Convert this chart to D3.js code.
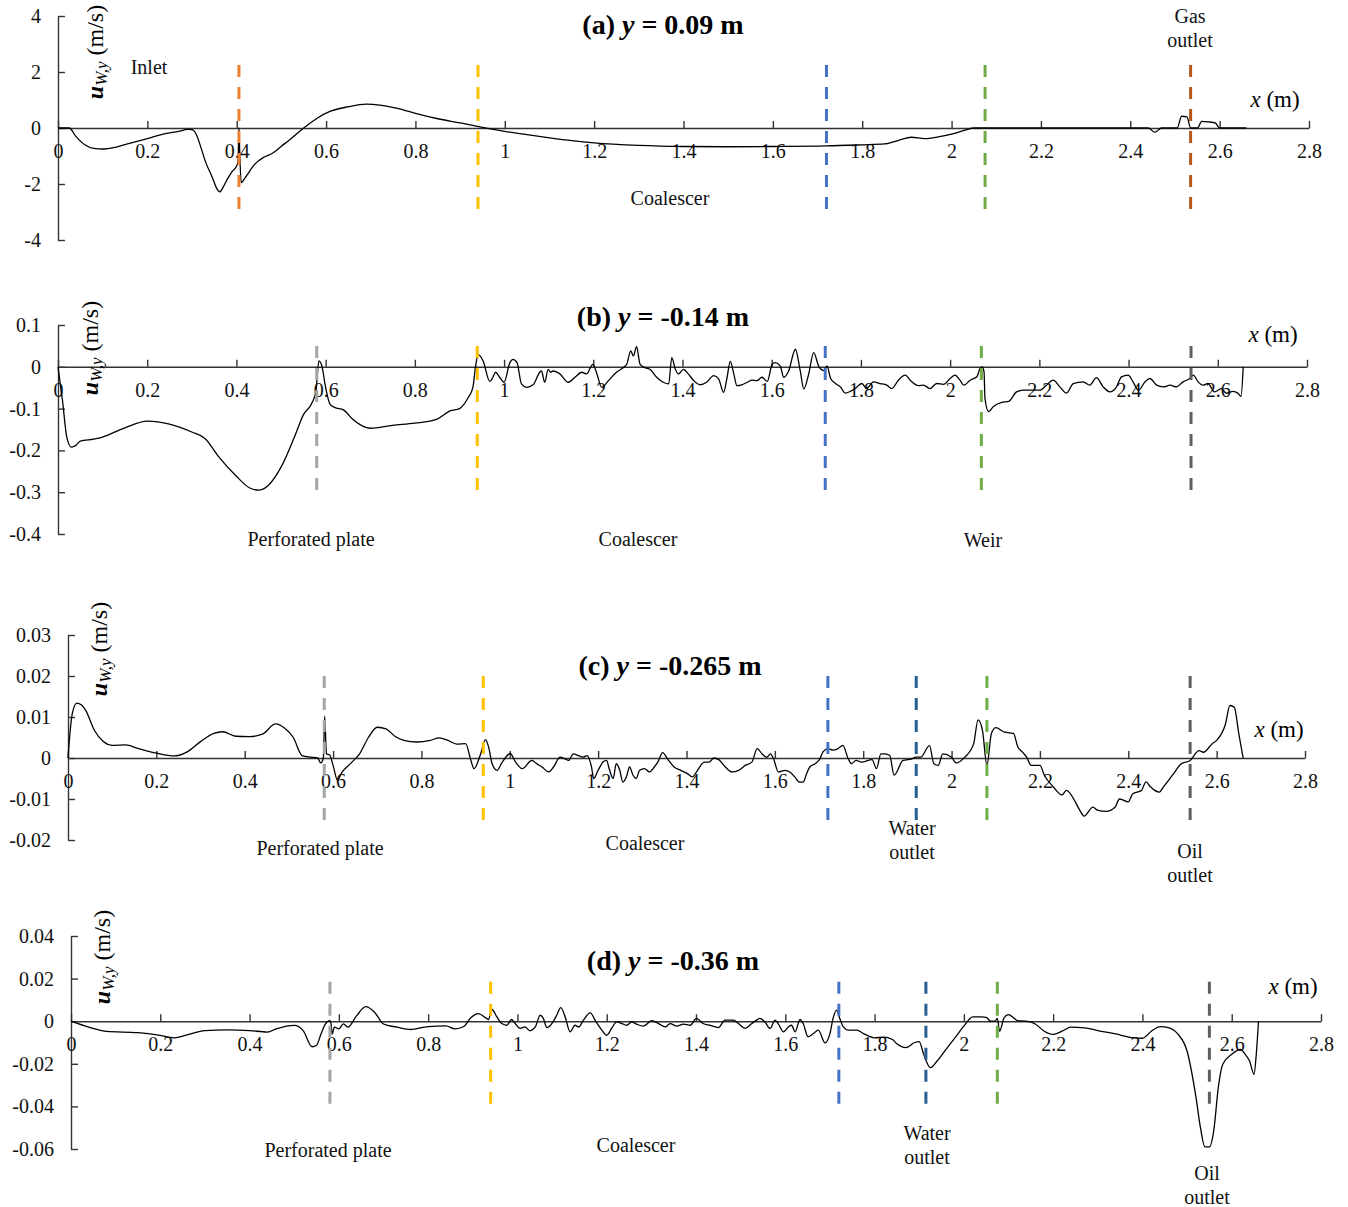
<!DOCTYPE html>
<html>
<head>
<meta charset="utf-8">
<script src="https://cdn.jsdelivr.net/npm/d3@7"></script>
<style>
  body { margin: 0; background: #fff; }
  svg { display: block; font-family: "Liberation Serif", "Times New Roman", serif; }
</style>
</head>
<body>
<svg id="chart" width="1348" height="1207"></svg>
<script>
// Horizontal position along the separator (m) shared by all four profiles
const xTicks = [0, 0.2, 0.4, 0.6, 0.8, 1, 1.2, 1.4, 1.6, 1.8, 2, 2.2, 2.4, 2.6, 2.8];

// Each profile is a list of [x (m), u_W,y (m/s)] samples.

// (a) y = 0.09 m
const yTicksA = [-4, -2, 0, 2, 4];
const profileA = [
  [0,0],[0.025,0],[0.04,-0.3],[0.06,-0.6],[0.08,-0.73],[0.1,-0.75],[0.13,-0.68],[0.16,-0.55],
  [0.2,-0.38],[0.24,-0.2],[0.27,-0.12],[0.29,-0.05],[0.3,-0.06],[0.31,-0.25],[0.32,-0.7],[0.33,-1.2],
  [0.345,-1.75],[0.355,-2.15],[0.362,-2.28],[0.37,-2.1],[0.38,-1.8],[0.39,-1.55],[0.4,-1.35],[0.403,-1.2],
  [0.405,0],[0.407,-1.0],[0.41,-1.95],[0.42,-1.75],[0.44,-1.3],[0.46,-1.05],[0.48,-0.9],[0.5,-0.65],
  [0.52,-0.4],[0.55,0],[0.58,0.35],[0.61,0.6],[0.65,0.76],[0.69,0.85],[0.72,0.82],[0.76,0.7],
  [0.8,0.52],[0.85,0.33],[0.9,0.18],[0.95,0.02],[1.0,-0.12],[1.05,-0.24],[1.1,-0.35],[1.15,-0.45],
  [1.2,-0.53],[1.3,-0.62],[1.4,-0.66],[1.5,-0.67],[1.6,-0.66],[1.72,-0.64],[1.8,-0.6],[1.85,-0.57],
  [1.88,-0.45],[1.91,-0.33],[1.94,-0.38],[1.97,-0.32],[2.0,-0.22],[2.03,-0.08],[2.05,0],[2.44,0],
  [2.455,-0.15],[2.47,0],[2.505,0],[2.515,0.42],[2.527,0.4],[2.535,0],[2.55,0],[2.56,0.24],
  [2.575,0.22],[2.59,0.18],[2.6,0],[2.66,0]
];
const wallsA = [0.405, 0.94, 1.72, 2.075, 2.535];

// (b) y = -0.14 m
const yTicksB = [-0.4, -0.3, -0.2, -0.1, 0, 0.1];
const profileB = [
  [0,0],[0.01,-0.08],[0.02,-0.17],[0.03,-0.192],[0.04,-0.188],[0.05,-0.178],[0.08,-0.173],[0.1,-0.168],
  [0.15,-0.146],[0.2,-0.13],[0.25,-0.137],[0.3,-0.156],[0.33,-0.172],[0.36,-0.215],[0.4,-0.262],[0.43,-0.29],
  [0.45,-0.295],[0.47,-0.285],[0.5,-0.24],[0.53,-0.168],[0.55,-0.115],[0.57,-0.085],[0.578,-0.06],[0.585,0.014],
  [0.592,0.0],[0.6,-0.05],[0.61,-0.09],[0.62,-0.097],[0.64,-0.103],[0.66,-0.125],[0.7,-0.147],[0.75,-0.14],
  [0.8,-0.135],[0.85,-0.125],[0.88,-0.105],[0.9,-0.1],[0.92,-0.073],[0.93,-0.05],[0.936,0],[0.942,0.029],
  [0.953,0.014],[0.968,-0.035],[0.975,-0.025],[0.981,-0.013],[0.99,-0.025],[1.0,-0.037],[1.013,0.01],[1.02,0.018],
  [1.029,0.01],[1.039,-0.041],[1.05,-0.049],[1.065,-0.043],[1.08,-0.013],[1.084,-0.01],[1.091,-0.037],[1.099,-0.006],
  [1.104,-0.013],[1.11,-0.01],[1.125,-0.017],[1.144,-0.037],[1.159,-0.025],[1.174,-0.013],[1.185,-0.017],[1.199,0.006],
  [1.207,-0.013],[1.219,-0.049],[1.234,-0.033],[1.252,-0.013],[1.267,-0.002],[1.275,0.006],[1.284,0.038],[1.29,0.026],
  [1.297,0.048],[1.305,0.006],[1.316,-0.002],[1.327,-0.006],[1.342,-0.025],[1.357,-0.037],[1.369,-0.041],[1.376,0.022],
  [1.384,-0.006],[1.391,-0.017],[1.402,-0.006],[1.413,-0.017],[1.425,-0.033],[1.44,-0.043],[1.454,-0.037],[1.47,-0.021],
  [1.481,-0.029],[1.492,-0.061],[1.5,-0.025],[1.507,0.013],[1.515,-0.017],[1.522,-0.045],[1.533,-0.043],[1.545,-0.037],
  [1.556,-0.032],[1.567,-0.033],[1.578,-0.025],[1.59,-0.035],[1.601,0.006],[1.608,0.01],[1.619,0.002],[1.627,-0.025],
  [1.638,-0.01],[1.653,0.042],[1.664,-0.01],[1.672,-0.053],[1.683,-0.017],[1.694,0.034],[1.706,0.0],[1.717,-0.009],
  [1.724,0.002],[1.732,-0.028],[1.743,-0.04],[1.754,-0.048],[1.765,-0.063],[1.776,-0.059],[1.787,-0.052],[1.802,-0.04],
  [1.813,-0.052],[1.828,-0.036],[1.843,-0.04],[1.858,-0.044],[1.869,-0.052],[1.884,-0.032],[1.899,-0.02],[1.914,-0.036],
  [1.929,-0.045],[1.94,-0.044],[1.955,-0.052],[1.97,-0.04],[1.985,-0.042],[2.0,-0.028],[2.011,-0.02],[2.022,-0.032],
  [2.031,-0.044],[2.045,-0.032],[2.06,-0.024],[2.067,-0.004],[2.072,0],[2.076,-0.012],[2.078,-0.075],[2.086,-0.107],
  [2.097,-0.095],[2.116,-0.085],[2.131,-0.083],[2.149,-0.06],[2.164,-0.056],[2.187,-0.056],[2.201,-0.056],[2.216,-0.044],
  [2.231,-0.032],[2.246,-0.048],[2.261,-0.063],[2.276,-0.04],[2.298,-0.036],[2.313,-0.044],[2.328,-0.026],[2.343,-0.048],
  [2.358,-0.06],[2.373,-0.048],[2.384,-0.024],[2.399,-0.02],[2.41,-0.036],[2.422,-0.056],[2.437,-0.036],[2.448,-0.028],
  [2.463,-0.044],[2.478,-0.048],[2.493,-0.044],[2.507,-0.048],[2.522,-0.036],[2.537,-0.028],[2.545,-0.02],[2.556,-0.036],
  [2.567,-0.044],[2.578,-0.04],[2.593,-0.06],[2.608,-0.052],[2.619,-0.063],[2.634,-0.059],[2.645,-0.063],[2.652,-0.071],
  [2.657,0]
];
const wallsB = [0.58, 0.94, 1.72, 2.07, 2.54];

// (c) y = -0.265 m
const yTicksC = [-0.02, -0.01, 0, 0.01, 0.02, 0.03];
const profileC = [
  [0,0],[0.005,0.0067],[0.01,0.011],[0.02,0.0134],[0.03,0.013],[0.04,0.0116],[0.06,0.0067],[0.08,0.004],
  [0.1,0.0031],[0.13,0.0032],[0.16,0.0023],[0.2,0.0012],[0.24,0.0005],[0.27,0.0015],[0.3,0.004],[0.33,0.006],
  [0.35,0.0064],[0.38,0.0053],[0.41,0.0052],[0.44,0.0058],[0.47,0.0083],[0.49,0.0073],[0.51,0.005],[0.53,0.0006],
  [0.55,0.0002],[0.565,0],[0.572,-0.0012],[0.578,0.0],[0.581,0.0102],[0.585,0.001],[0.592,0.0008],[0.6,-0.0018],
  [0.61,-0.0054],[0.62,-0.0035],[0.64,-0.0013],[0.66,0.001],[0.68,0.005],[0.7,0.0075],[0.72,0.0071],[0.74,0.0053],
  [0.76,0.0043],[0.79,0.0039],[0.82,0.0043],[0.84,0.0049],[0.86,0.0043],[0.88,0.0034],[0.9,0.0035],[0.912,-0.0006],
  [0.919,-0.0026],[0.934,0.001],[0.945,0.0045],[0.952,0.0027],[0.96,-0.0014],[0.971,-0.003],[0.983,-0.001],[1.001,0.0011],
  [1.013,-0.001],[1.028,-0.0026],[1.05,-0.0006],[1.061,-0.0014],[1.073,-0.0022],[1.088,-0.0034],[1.099,-0.0022],[1.114,0.0002],
  [1.125,-0.0002],[1.133,-0.0006],[1.144,0.001],[1.155,0.0006],[1.166,0.0002],[1.175,0.0006],[1.185,-0.0022],[1.19,-0.005],
  [1.2,-0.003],[1.211,-0.001],[1.219,-0.0006],[1.226,-0.003],[1.234,-0.005],[1.241,-0.0014],[1.249,-0.003],[1.256,-0.0059],
  [1.264,-0.0046],[1.271,-0.0022],[1.279,-0.0042],[1.286,-0.005],[1.294,-0.003],[1.305,-0.0026],[1.316,-0.0034],[1.327,-0.0022],
  [1.335,-0.001],[1.346,0.0013],[1.357,-0.0002],[1.372,-0.0022],[1.387,-0.003],[1.402,-0.0038],[1.413,-0.0046],[1.425,-0.003],
  [1.44,-0.001],[1.451,-0.001],[1.462,0],[1.473,-0.0004],[1.488,-0.0022],[1.503,-0.0034],[1.518,-0.003],[1.533,-0.0018],
  [1.548,-0.001],[1.56,0.0023],[1.571,0.001],[1.582,0.0002],[1.59,0.001],[1.597,-0.0002],[1.608,-0.0034],[1.623,-0.003],
  [1.634,-0.0034],[1.645,-0.0046],[1.656,-0.0059],[1.664,-0.0059],[1.672,-0.0038],[1.679,-0.0022],[1.691,-0.0014],[1.702,-0.0002],
  [1.709,0.0015],[1.72,0.0023],[1.732,0.0019],[1.743,0.0023],[1.754,0.0031],[1.766,-0.0002],[1.773,-0.0014],[1.784,-0.0006],
  [1.796,-0.001],[1.82,-0.0004],[1.83,-0.0026],[1.84,0.001],[1.85,0.001],[1.86,0.0006],[1.87,-0.0042],[1.89,-0.0006],
  [1.91,-0.0002],[1.92,0.0002],[1.93,0.0002],[1.95,0.003],[1.96,-0.0014],[1.97,-0.0018],[1.98,0.001],[2.0,0.0002],
  [2.01,-0.0012],[2.03,0.0002],[2.05,0.0035],[2.06,0.0093],[2.07,0.0067],[2.08,-0.0018],[2.09,0.0059],[2.1,0.0074],
  [2.12,0.0063],[2.14,0.006],[2.15,0.0027],[2.16,0.0015],[2.17,0.0002],[2.18,-0.0018],[2.2,-0.0018],[2.21,-0.0042],
  [2.23,-0.007],[2.25,-0.009],[2.26,-0.0079],[2.28,-0.0107],[2.29,-0.0127],[2.3,-0.0142],[2.32,-0.012],[2.33,-0.0127],
  [2.35,-0.013],[2.37,-0.012],[2.38,-0.01],[2.4,-0.0107],[2.41,-0.0087],[2.43,-0.0079],[2.44,-0.0058],[2.45,-0.007],
  [2.47,-0.0083],[2.48,-0.007],[2.5,-0.0042],[2.52,-0.0014],[2.54,-0.0006],[2.56,0.0018],[2.57,0.0014],[2.59,0.0035],
  [2.6,0.0043],[2.62,0.0083],[2.63,0.0128],[2.64,0.0124],[2.65,0.006],[2.66,0]
];
const wallsC = [0.58, 0.94, 1.72, 1.92, 2.08, 2.54];

// (d) y = -0.36 m
const yTicksD = [-0.06, -0.04, -0.02, 0, 0.02, 0.04];
const profileD = [
  [0,0],[0.04,-0.0028],[0.08,-0.0048],[0.15,-0.0054],[0.2,-0.0067],[0.23,-0.0078],[0.26,-0.0064],[0.3,-0.0044],
  [0.35,-0.0041],[0.4,-0.0044],[0.44,-0.0051],[0.46,-0.0036],[0.5,-0.002],[0.52,-0.0044],[0.54,-0.012],[0.55,-0.0113],
  [0.56,-0.006],[0.57,-0.0013],[0.58,0.0003],[0.583,-0.002],[0.585,-0.006],[0.59,-0.0028],[0.6,-0.0036],[0.61,-0.0013],
  [0.62,-0.0028],[0.64,0.0026],[0.66,0.0068],[0.68,0.0042],[0.7,-0.0013],[0.73,-0.0028],[0.76,-0.0039],[0.8,-0.0025],
  [0.84,-0.0022],[0.86,-0.0036],[0.88,-0.0025],[0.894,0.0013],[0.913,0.0036],[0.928,0.0017],[0.935,0.0008],[0.943,0.0055],
  [0.954,0.002],[0.965,-0.0011],[0.976,-0.0019],[0.987,0.0008],[0.995,-0.0011],[1.006,-0.0034],[1.017,-0.0027],[1.028,-0.0045],
  [1.04,-0.0027],[1.051,0.0028],[1.058,0.0013],[1.066,-0.003],[1.077,-0.0011],[1.088,0.0028],[1.097,0.0064],[1.107,0.002],
  [1.118,-0.005],[1.129,-0.0019],[1.137,-0.0027],[1.148,0.0005],[1.163,0.0039],[1.176,-0.0003],[1.189,-0.0042],[1.2,-0.0066],
  [1.211,-0.0034],[1.222,-0.0003],[1.234,-0.0011],[1.245,-0.0019],[1.256,-0.0003],[1.267,-0.0014],[1.282,-0.0023],[1.301,0.0002],
  [1.316,-0.0011],[1.331,-0.0027],[1.342,-0.0011],[1.357,-0.0023],[1.372,-0.0014],[1.387,-0.0019],[1.401,0.0013],[1.416,-0.0011],
  [1.431,-0.0019],[1.45,-0.003],[1.465,0.0005],[1.484,0.0005],[1.495,-0.0011],[1.51,-0.0034],[1.525,-0.0011],[1.536,0.0005],
  [1.543,0.0013],[1.554,-0.0003],[1.566,-0.0034],[1.577,0.0005],[1.584,-0.0011],[1.596,-0.005],[1.607,-0.0027],[1.614,-0.0019],
  [1.622,-0.005],[1.633,0.0008],[1.64,-0.0011],[1.651,-0.0073],[1.663,-0.0058],[1.674,-0.0042],[1.689,-0.0102],[1.7,-0.0058],
  [1.707,0.0013],[1.715,0.0052],[1.722,0.0013],[1.73,-0.0027],[1.741,-0.0042],[1.76,-0.0042],[1.775,-0.0058],[1.8,-0.0078],
  [1.82,-0.0075],[1.84,-0.0086],[1.85,-0.0106],[1.87,-0.0124],[1.89,-0.01],[1.9,-0.0096],[1.91,-0.0155],[1.925,-0.0218],
  [1.94,-0.0187],[1.96,-0.0132],[1.98,-0.0078],[2.0,-0.0023],[2.02,0.002],[2.04,0.002],[2.05,0.0018],[2.06,0],
  [2.07,0],[2.075,0.0013],[2.08,-0.0047],[2.09,0.0016],[2.1,0.0031],[2.12,0.0003],[2.14,0],[2.16,-0.0013],
  [2.18,-0.0047],[2.2,-0.0062],[2.22,-0.0047],[2.24,-0.0028],[2.27,-0.0031],[2.3,-0.0044],[2.34,-0.006],[2.38,-0.0078],
  [2.4,-0.008],[2.42,-0.0047],[2.44,-0.0025],[2.46,-0.0031],[2.48,-0.0062],[2.5,-0.014],[2.52,-0.0358],[2.53,-0.05],
  [2.54,-0.059],[2.55,-0.059],[2.56,-0.051],[2.57,-0.031],[2.58,-0.0202],[2.6,-0.0155],[2.62,-0.0132],[2.63,-0.0155],
  [2.64,-0.0187],[2.65,-0.0249],[2.655,-0.0155],[2.66,0]
];
const wallsD = [0.58, 0.94, 1.72, 1.915, 2.075, 2.55];

// ---- layout and styling -------------------------------------------------
const C = {
  orange: "#ED7D31", yellow: "#FFC000", blue: "#4472C4", green: "#70AD47",
  brown: "#B8561A", gray: "#A5A5A5", dgray: "#5F5F5F", navy: "#255E91"
};

const panels = [
  { tag: "a", yPos: "0.09", data: profileA, yTicks: yTicksA, walls: wallsA,
    wallColors: [C.orange, C.yellow, C.blue, C.green, C.brown],
    wallSpan: [2.25, -3.05],
    box: { left: 58, right: 1309, top: 16, bottom: 240 }, dom: [-4, 4],
    title: [663, 24], yLab: [95, 52], xLab: [1275, 99],
    notes: [ { t: ["Inlet"], x: 149, y: 67 }, { t: ["Coalescer"], x: 670, y: 198 },
             { t: ["Gas", "outlet"], x: 1190, y: 16 } ] },
  { tag: "b", yPos: "-0.14", data: profileB, yTicks: yTicksB, walls: wallsB,
    wallColors: [C.gray, C.yellow, C.blue, C.green, C.dgray],
    wallSpan: [0.05, -0.3],
    box: { left: 58, right: 1307, top: 325, bottom: 534 }, dom: [-0.4, 0.1],
    title: [663, 316], yLab: [90, 348], xLab: [1273, 334],
    notes: [ { t: ["Perforated plate"], x: 311, y: 539 }, { t: ["Coalescer"], x: 638, y: 539 },
             { t: ["Weir"], x: 983, y: 540 } ] },
  { tag: "c", yPos: "-0.265", data: profileC, yTicks: yTicksC, walls: wallsC,
    wallColors: [C.gray, C.yellow, C.blue, C.navy, C.green, C.dgray],
    wallSpan: [0.02, -0.0155],
    box: { left: 68, right: 1305, top: 635, bottom: 840 }, dom: [-0.02, 0.03],
    title: [670, 665], yLab: [99, 649], xLab: [1279, 729],
    notes: [ { t: ["Perforated plate"], x: 320, y: 848 }, { t: ["Coalescer"], x: 645, y: 843 },
             { t: ["Water", "outlet"], x: 912, y: 828 }, { t: ["Oil", "outlet"], x: 1190, y: 851 } ] },
  { tag: "d", yPos: "-0.36", data: profileD, yTicks: yTicksD, walls: wallsD,
    wallColors: [C.gray, C.yellow, C.blue, C.navy, C.green, C.dgray],
    wallSpan: [0.0185, -0.0412],
    box: { left: 71, right: 1321, top: 936, bottom: 1149 }, dom: [-0.06, 0.04],
    title: [673, 960], yLab: [102, 957], xLab: [1293, 986],
    notes: [ { t: ["Perforated plate"], x: 328, y: 1150 }, { t: ["Coalescer"], x: 636, y: 1145 },
             { t: ["Water", "outlet"], x: 927, y: 1133 }, { t: ["Oil", "outlet"], x: 1207, y: 1173 } ] }
];

const svg = d3.select("#chart");
const fmt = d => String(+d.toFixed(3));
const axisColor = "#333";

panels.forEach(p => {
  const xs = d3.scaleLinear().domain([0, 2.8]).range([p.box.left, p.box.right]);
  const ys = d3.scaleLinear().domain(p.dom).range([p.box.bottom, p.box.top]);
  const g = svg.append("g").attr("class", "panel-" + p.tag);

  // y axis (ticks point into the plot)
  const yAxis = g.append("g")
    .attr("transform", `translate(${p.box.left},0)`)
    .call(d3.axisLeft(ys).tickValues(p.yTicks).tickFormat(fmt)
      .tickSizeInner(-7).tickSizeOuter(0).tickPadding(17));

  // x axis drawn along u = 0, ticks pointing up
  const xAxis = g.append("g")
    .attr("transform", `translate(0,${ys(0)})`)
    .call(d3.axisBottom(xs).tickValues(xTicks).tickFormat(fmt)
      .tickSizeInner(-7).tickSizeOuter(0).tickPadding(16));

  [yAxis, xAxis].forEach(ax => {
    ax.selectAll("path, line").attr("stroke", axisColor).attr("stroke-width", 1.4);
    ax.selectAll("text").attr("fill", "#111").style("font-size", "20px")
      .style("font-family", '"Liberation Serif", "Times New Roman", serif');
  });

  // velocity profile
  g.append("path")
    .datum(p.data)
    .attr("fill", "none")
    .attr("stroke", "#000")
    .attr("stroke-width", 1.3)
    .attr("stroke-linejoin", "round")
    .attr("d", d3.line().x(d => xs(d[0])).y(d => ys(d[1])).curve(d3.curveMonotoneX));

  // internals of the separator: dashed markers
  g.selectAll("line.wall")
    .data(p.walls)
    .join("line")
    .attr("class", "wall")
    .attr("x1", d => xs(d)).attr("x2", d => xs(d))
    .attr("y1", ys(p.wallSpan[0])).attr("y2", ys(p.wallSpan[1]))
    .attr("stroke", (d, i) => p.wallColors[i])
    .attr("stroke-width", 3)
    .attr("stroke-dasharray", "12,10");

  // panel title
  const t = g.append("text")
    .attr("x", p.title[0]).attr("y", p.title[1])
    .attr("text-anchor", "middle").attr("dominant-baseline", "central")
    .style("font-size", "28px").style("font-weight", "bold").attr("fill", "#000");
  t.append("tspan").text(`(${p.tag}) `);
  t.append("tspan").style("font-style", "italic").text("y");
  t.append("tspan").text(` = ${p.yPos} m`);

  // y-axis title: u_{W,y} (m/s)
  const yl = g.append("text")
    .attr("transform", `translate(${p.yLab[0]},${p.yLab[1]}) rotate(-90)`)
    .attr("text-anchor", "middle").attr("dominant-baseline", "central")
    .style("font-size", "24px").attr("fill", "#000");
  yl.append("tspan").style("font-weight", "bold").style("font-style", "italic").text("u");
  yl.append("tspan").style("font-style", "italic").style("font-size", "17px").attr("dy", 6).text("W,y");
  yl.append("tspan").attr("dy", -6).text(" (m/s)");

  // x-axis title
  const xl = g.append("text")
    .attr("x", p.xLab[0]).attr("y", p.xLab[1])
    .attr("text-anchor", "middle").attr("dominant-baseline", "central")
    .style("font-size", "23px").attr("fill", "#000");
  xl.append("tspan").style("font-style", "italic").text("x");
  xl.append("tspan").text(" (m)");

  // component labels
  p.notes.forEach(n => {
    const tx = g.append("text")
      .attr("text-anchor", "middle").attr("dominant-baseline", "central")
      .style("font-size", "20px").attr("fill", "#111");
    n.t.forEach((line, i) => {
      tx.append("tspan").attr("x", n.x).attr("y", n.y + i * 24).text(line);
    });
  });
});
</script>
</body>
</html>
